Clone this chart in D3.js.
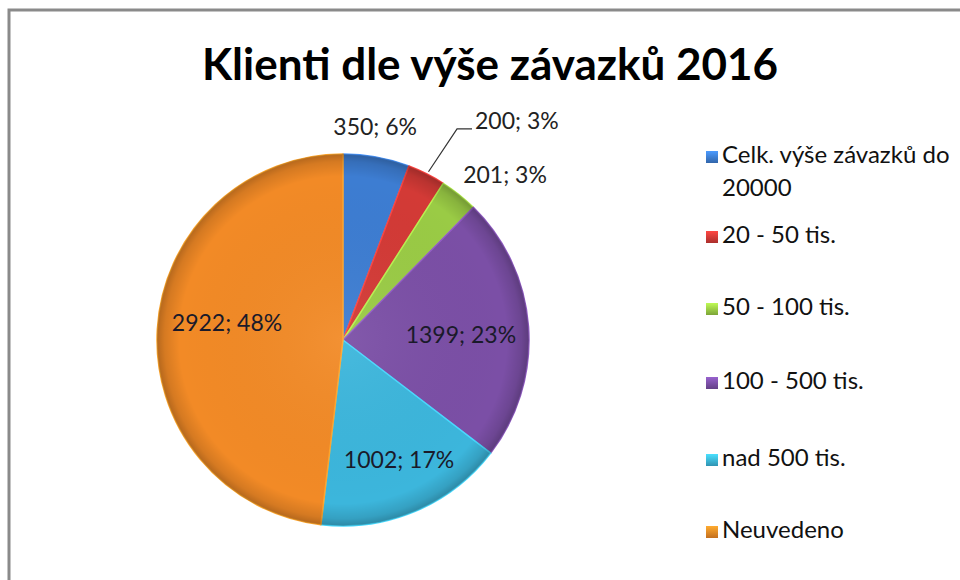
<!DOCTYPE html>
<html>
<head>
<meta charset="utf-8">
<script src="https://cdn.jsdelivr.net/npm/d3@7"></script>
<style>
  html, body { margin: 0; padding: 0; background: #fff; }
  svg { display: block; font-family: Lato, 'Open Sans', sans-serif; }
</style>
</head>
<body>
<svg class="chartContainer" width="960" height="580" viewBox="0 0 960 580"></svg>
<script>
// chart data
const categories = ['Celk. výše závazků do 20000', '20 - 50 tis.', '50 - 100 tis.', '100 - 500 tis.', 'nad 500 tis.', 'Neuvedeno']
const values = [350, 200, 201, 1399, 1002, 2922]
const percents = [6, 3, 3, 23, 17, 48]
const colors = ['#3d7dd2', '#d33a36', '#9acb45', '#7b4fa6', '#3cb6dc', '#f28a26']
const title = 'Klienti dle výše závazků 2016'

const svg = d3.select('svg.chartContainer')
const width = 960
const height = 580

// frame (only top and left edge visible)
svg.append('path')
  .attr('d', `M9,${height} V10 H${width}`)
  .attr('fill', 'none')
  .attr('stroke', '#8a8a8a')
  .attr('stroke-width', 3)

svg.append('text')
  .attr('x', 490)
  .attr('y', 80)
  .attr('text-anchor', 'middle')
  .style('font-size', '44px')
  .style('font-weight', 'bold')
  .attr('fill', '#000')
  .text(title)

const cx = 343
const cy = 340
const radius = 186

const defs = svg.append('defs')

// bevel-like shading over the whole pie
const shade = defs.append('radialGradient')
  .attr('id', 'pieShade')
  .attr('cx', '50%').attr('cy', '50%').attr('r', '50%')
shade.append('stop').attr('offset', '0%').attr('stop-color', '#fff').attr('stop-opacity', 0.06)
shade.append('stop').attr('offset', '88%').attr('stop-color', '#000').attr('stop-opacity', 0.0)
shade.append('stop').attr('offset', '96%').attr('stop-color', '#000').attr('stop-opacity', 0.12)
shade.append('stop').attr('offset', '100%').attr('stop-color', '#000').attr('stop-opacity', 0.25)

colors.forEach((c, i) => {
  const g = defs.append('linearGradient')
    .attr('id', `leg${i}`)
    .attr('x1', 0).attr('y1', 0).attr('x2', 0).attr('y2', 1)
  g.append('stop').attr('offset', '0%').attr('stop-color', d3.color(c).brighter(0.6))
  g.append('stop').attr('offset', '100%').attr('stop-color', d3.color(c).darker(0.6))
})

const pie = d3.pie().sort(null).value(d => d.value)
const arcs = pie(values.map((v, i) => ({ value: v, i })))

const arc = d3.arc().innerRadius(0).outerRadius(radius)

const pieG = svg.append('g').attr('transform', `translate(${cx},${cy})`)

pieG.selectAll('path.slice')
  .data(arcs)
  .join('path')
  .attr('class', 'slice')
  .attr('d', arc)
  .attr('fill', d => colors[d.data.i])
  .attr('stroke', d => d3.color(colors[d.data.i]).brighter(0.5))
  .attr('stroke-width', 1.5)
  .attr('stroke-linejoin', 'round')

pieG.append('circle')
  .attr('r', radius)
  .attr('fill', 'url(#pieShade)')
  .attr('pointer-events', 'none')

// label layout: radius factor along mid angle, plus small nudge
const labelLayout = [
  { k: 1.14, dx: -6, dy: -2, anchor: 'middle' },
  { k: 1.33, dx: 21, dy: 4, anchor: 'start', leader: true },
  { k: 1.14, dx: -12, dy: 3, anchor: 'start' },
  { k: 0.63, dx: 1, dy: 5, anchor: 'middle' },
  { k: 0.72, dx: 4, dy: -1, anchor: 'middle' },
  { k: 0.63, dx: 1, dy: -8, anchor: 'middle' }
]

const midAngle = d => (d.startAngle + d.endAngle) / 2
const polar = (a, r) => [Math.sin(a) * r, -Math.cos(a) * r]

arcs.forEach((d, i) => {
  const lay = labelLayout[i]
  const a = midAngle(d)
  const [x, y] = polar(a, radius * lay.k)
  const tx = x + lay.dx
  const ty = y + lay.dy
  if (lay.leader) {
    const [ex, ey] = polar(a, radius)
    pieG.append('polyline')
      .attr('points', [[ex + 2, ey - 2], [tx - 18, ty + 6], [tx - 3, ty + 6]].map(p => p.join(',')).join(' '))
      .attr('fill', 'none')
      .attr('stroke', '#333')
      .attr('stroke-width', 1.2)
  }
  pieG.append('text')
    .attr('x', tx)
    .attr('y', ty)
    .attr('text-anchor', lay.anchor)
    .attr('dominant-baseline', 'middle')
    .style('font-size', '23px')
    .attr('fill', lay.k < 1 ? '#1a1a2a' : '#222')
    .text(`${values[i]}; ${percents[i]}%`)
})

// legend
const legend = svg.append('g').attr('transform', 'translate(706,0)')
const legendRows = [157, 237, 309, 383, 460, 532]
categories.forEach((c, i) => {
  const row = legend.append('g').attr('transform', `translate(0,${legendRows[i]})`)
  row.append('rect')
    .attr('x', 0).attr('y', -6)
    .attr('width', 12).attr('height', 12)
    .attr('fill', `url(#leg${i})`)
  const t = row.append('text')
    .attr('x', 16)
    .attr('y', 0)
    .attr('dominant-baseline', 'middle')
    .style('font-size', '24px')
    .attr('fill', '#111')
  if (i === 0) {
    t.append('tspan').attr('x', 16).text('Celk. výše závazků do')
    t.append('tspan').attr('x', 16).attr('dy', 33).text('20000')
  } else {
    t.text(c)
  }
})
</script>
</body>
</html>
